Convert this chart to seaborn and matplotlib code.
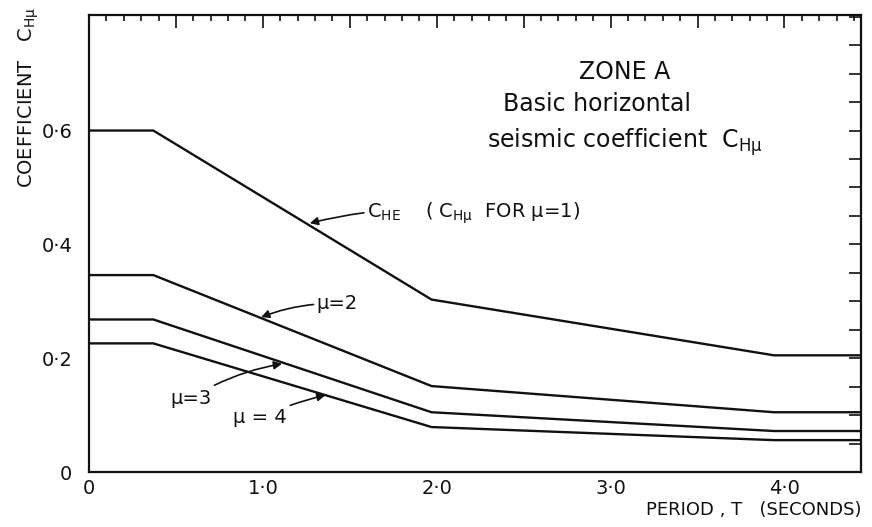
import matplotlib
matplotlib.use('Agg')
import matplotlib.pyplot as plt
from matplotlib.ticker import MultipleLocator, FuncFormatter
import seaborn as sns
import pandas as pd

# period T (s) at the corner points of each curve
period = [0.0, 0.37, 1.97, 3.94, 4.44]
c_he = [0.600, 0.600, 0.303, 0.205, 0.205]   # mu = 1
mu2 = [0.346, 0.346, 0.151, 0.105, 0.105]
mu3 = [0.268, 0.268, 0.105, 0.072, 0.072]
mu4 = [0.226, 0.226, 0.079, 0.056, 0.056]
series_names = ['mu1', 'mu2', 'mu3', 'mu4']

x_labels = [0, 1, 2, 3, 4]
y_labels = [0, 0.2, 0.4, 0.6]

rows = []
for name, vals in zip(series_names, [c_he, mu2, mu3, mu4]):
    for t, c in zip(period, vals):
        rows.append({'T': t, 'C': c, 'series': name})
df = pd.DataFrame(rows)

sns.set_style('white')
plt.rcParams['font.family'] = ['DejaVu Sans']
plt.rcParams['mathtext.fontset'] = 'dejavusans'

ink = '#111111'
fig = plt.figure(figsize=(8.72, 5.27), dpi=100)
ax = fig.add_axes([89 / 872, 1 - 472 / 527, (861 - 89) / 872, (472 - 15) / 527])

sns.lineplot(data=df, x='T', y='C', hue='series', palette={n: ink for n in series_names},
             estimator=None, sort=False, legend=False, linewidth=1.7, ax=ax)

ax.set_xlim(0, 4.44)
ax.set_ylim(0, 0.803)

for s in ax.spines.values():
    s.set_visible(True)
    s.set_linewidth(1.6)
    s.set_color(ink)

ax.xaxis.set_major_locator(MultipleLocator(0.5))
ax.xaxis.set_minor_locator(MultipleLocator(0.1))
ax.yaxis.set_major_locator(MultipleLocator(0.05))


def fmt_x(v, pos):
    for lab in x_labels:
        if abs(v - lab) < 1e-6:
            return '0' if lab == 0 else f'{lab:.1f}'.replace('.', '·')
    return ''


def fmt_y(v, pos):
    for lab in y_labels:
        if abs(v - lab) < 1e-6:
            return '0' if lab == 0 else f'{lab:.1f}'.replace('.', '·')
    return ''


ax.xaxis.set_major_formatter(FuncFormatter(fmt_x))
ax.yaxis.set_major_formatter(FuncFormatter(fmt_y))
ax.tick_params(which='both', direction='in', top=True, right=True, color=ink, width=1.2)
ax.tick_params(axis='x', which='major', length=9, pad=5, labelsize=14, labelcolor=ink)
ax.tick_params(axis='x', which='minor', length=4.5)
ax.tick_params(axis='y', which='major', length=8.5, pad=12, labelsize=14, labelcolor=ink)

ax.set_xlabel('PERIOD , T   (SECONDS)', fontsize=13, color=ink)
ax.xaxis.label.set_ha('right')
ax.xaxis.set_label_coords(1.0, -0.064)
ax.set_ylabel('COEFFICIENT   C$_{\\mathrm{Hμ}}$', fontsize=14, color=ink)
ax.yaxis.set_label_coords(-0.062, 0.82)

# title block
ax.text(3.08, 0.691, 'ZONE A', fontsize=17, ha='center', va='baseline', color=ink)
ax.text(2.92, 0.635, 'Basic horizontal', fontsize=17, ha='center', va='baseline', color=ink)
ax.text(3.08, 0.570, 'seismic coefficient  C$_{\\mathrm{Hμ}}$', fontsize=17, ha='center',
        va='baseline', color=ink)

arrow = dict(arrowstyle='-|>', color=ink, lw=1.2, mutation_scale=12, shrinkA=0, shrinkB=0)
ax.annotate('C$_{\\mathrm{HE}}$    ( C$_{\\mathrm{Hμ}}$  FOR μ=1)', xy=(1.27, 0.437),
            xytext=(1.60, 0.454), fontsize=14, ha='left', va='center', color=ink,
            arrowprops=dict(arrow, connectionstyle='arc3,rad=0.1'))
ax.annotate('μ=2', xy=(0.99, 0.272), xytext=(1.31, 0.296),
            fontsize=14, ha='left', va='center', color=ink,
            arrowprops=dict(arrow, connectionstyle='arc3,rad=0.1'))
ax.annotate('μ=3', xy=(1.11, 0.190), xytext=(0.47, 0.13),
            fontsize=14, ha='left', va='center', color=ink,
            arrowprops=dict(arrow, connectionstyle='arc3,rad=-0.1'))
ax.annotate('μ = 4', xy=(1.36, 0.135), xytext=(0.83, 0.096),
            fontsize=14, ha='left', va='center', color=ink,
            arrowprops=dict(arrow, connectionstyle='arc3,rad=-0.05'))

plt.savefig('out.png', dpi=100)
plt.close()
